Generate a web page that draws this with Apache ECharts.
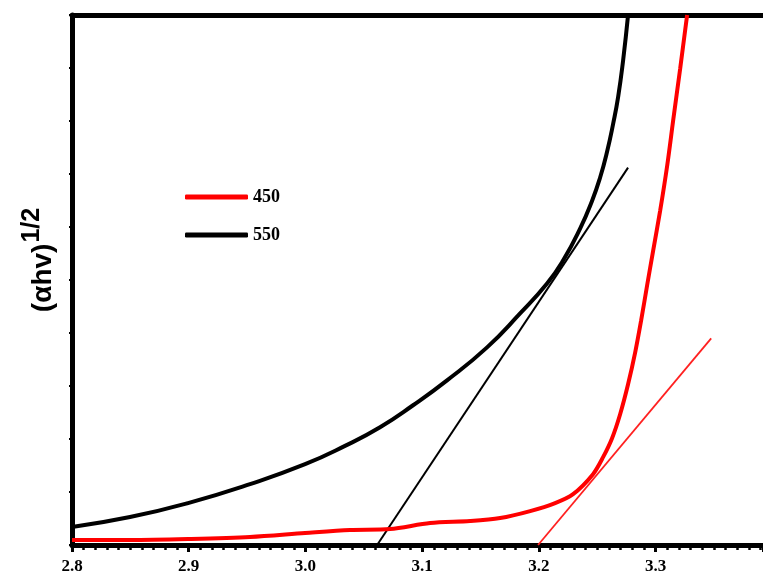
<!DOCTYPE html>
<html>
<head>
<meta charset="utf-8">
<script src="https://cdn.jsdelivr.net/npm/echarts@6/dist/echarts.min.js"></script>
<style>html,body{margin:0;padding:0;background:#fff}#c{width:763px;height:576px}</style>
</head>
<body>
<div id="c"></div>
<script>
// photon energy (eV) and (alpha h nu)^1/2 (arbitrary units 0-100)
var x550 = [2.8000, 2.8497, 2.8994, 2.9525, 2.9997, 3.0339, 3.0639, 3.0922, 3.1213, 3.1556, 3.1839, 3.2070, 3.2207, 3.2353, 3.2456, 3.2524, 3.2584, 3.2636, 3.2679, 3.2722, 3.2764];
var y550 = [3.39, 5.27, 7.91, 11.49, 15.25, 18.70, 22.22, 26.37, 31.07, 37.29, 43.69, 49.34, 53.67, 59.70, 64.97, 69.30, 74.20, 79.47, 84.56, 91.53, 100];
var x450 = [2.8000, 2.8497, 2.8994, 2.9525, 2.9997, 3.0382, 3.0725, 3.1068, 3.1410, 3.1668, 3.1925, 3.2139, 3.2293, 3.2464, 3.2550, 3.2627, 3.2696, 3.2764, 3.2825, 3.2876, 3.2927, 3.2979, 3.3039, 3.3099, 3.3150, 3.3210, 3.3270];
var y450 = [0.94, 0.94, 1.13, 1.51, 2.26, 2.82, 3.01, 4.14, 4.52, 5.08, 6.40, 7.91, 9.60, 13.37, 16.57, 20.15, 24.67, 30.32, 36.35, 42.37, 48.96, 55.56, 63.09, 71.56, 80.04, 89.83, 100];
// tangent (Tauc) lines
var tan550x = [3.0614, 3.2764];
var tan550y = [0, 71.2];
var tan450x = [3.1993, 3.3476];
var tan450y = [0, 39.0];
var xTicks = [2.8, 2.9, 3.0, 3.1, 3.2, 3.3];

function pairs(xs, ys) { return xs.map(function (v, i) { return [v, ys[i]]; }); }

var chart = echarts.init(document.getElementById('c'));
chart.setOption({
  animation: false,
  backgroundColor: '#fff',
  grid: { left: 72, right: 0, top: 15, bottom: 31, containLabel: false },
  legend: {
    orient: 'vertical', left: 180, top: 183, itemGap: 20,
    itemWidth: 63, itemHeight: 5, icon: 'roundRect',
    data: ['450', '550'],
    textStyle: { fontFamily: 'Liberation Serif', fontWeight: 'bold', fontSize: 18, color: '#000' }
  },
  xAxis: [{
    type: 'value', min: 2.8, max: 3.392, interval: 0.1,
    axisLine: { show: true, lineStyle: { color: '#000', width: 5 } },
    axisTick: { show: true, length: 7, lineStyle: { color: '#000', width: 3 } },
    minorTick: { show: true, splitNumber: 10, length: 5, lineStyle: { color: '#000', width: 2.5 } },
    splitLine: { show: false },
    axisLabel: {
      margin: 13, showMaxLabel: false,
      fontFamily: 'Liberation Serif', fontWeight: 'bold', fontSize: 17, color: '#000',
      formatter: function (v) { var t = xTicks.find(function (k) { return Math.abs(k - v) < 1e-6; }); return t === undefined ? '' : t.toFixed(1); }
    }
  }, {
    type: 'value', position: 'top', min: 2.8, max: 3.392,
    axisLine: { show: true, lineStyle: { color: '#000', width: 5 } },
    axisTick: { show: false }, axisLabel: { show: false }, splitLine: { show: false }
  }],
  yAxis: {
    type: 'value', min: 0, max: 100, interval: 10,
    name: '{b|(αhv)}{s|1/2}', nameLocation: 'middle', nameGap: 5, nameRotate: 90,
    nameTextStyle: {
      rich: {
        b: { fontFamily: 'Liberation Sans', fontWeight: 'bold', fontSize: 28, color: '#000', padding: [0, 0, 0, 40] },
        s: { fontFamily: 'Liberation Sans', fontWeight: 'bold', fontSize: 25, color: '#000', padding: [0, 0, 22, 1] }
      }
    },
    axisLine: { show: true, lineStyle: { color: '#000', width: 5 } },
    axisTick: { show: true, length: 3, lineStyle: { color: '#000', width: 2 } },
    axisLabel: { show: false },
    splitLine: { show: false }
  },
  series: [
    { name: '450', type: 'line', data: pairs(x450, y450), showSymbol: false, smooth: 0.3, color: '#ff0000', lineStyle: { width: 4, color: '#ff0000' }, z: 3 },
    { name: '550', type: 'line', data: pairs(x550, y550), showSymbol: false, smooth: 0.5, color: '#000', lineStyle: { width: 4, color: '#000' }, z: 3 },
    { name: 'fit550', type: 'line', data: pairs(tan550x, tan550y), showSymbol: false, lineStyle: { width: 2, color: '#000' }, z: 2 },
    { name: 'fit450', type: 'line', data: pairs(tan450x, tan450y), showSymbol: false, lineStyle: { width: 1.8, color: '#ff2020' }, z: 2 }
  ]
});
</script>
</body>
</html>
